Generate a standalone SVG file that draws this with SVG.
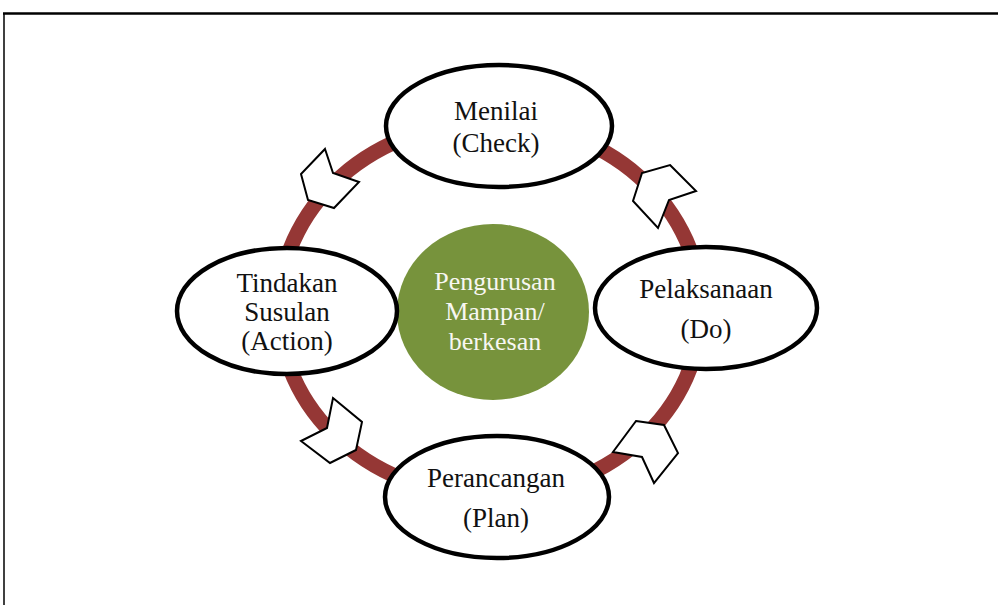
<svg xmlns="http://www.w3.org/2000/svg" width="998" height="605" viewBox="0 0 998 605">
<style>
  .node { fill: #ffffff; stroke: #000000; stroke-width: 4.5; }
  .lbl { font-family: "Liberation Serif", "Times New Roman", serif; font-size: 27px; fill: #111111; text-anchor: middle; }
  .clbl { font-family: "Liberation Serif", "Times New Roman", serif; font-size: 26px; fill: #f7f7f2; text-anchor: middle; }
  .arrow { fill: #ffffff; stroke: #000000; stroke-width: 2; stroke-linejoin: miter; }
</style>
<rect x="0" y="0" width="998" height="605" fill="#ffffff"/>
<g id="frame">
  <line x1="3" y1="13.5" x2="998" y2="13.5" stroke="#000" stroke-width="2.5"/>
  <line x1="4" y1="13" x2="4" y2="605" stroke="#000" stroke-width="1.5"/>
</g>
<g id="connectors">
  <ellipse cx="490" cy="309" rx="211" ry="187" fill="none" stroke="#953735" stroke-width="15"/>
  <polygon class="arrow" points="325,149 333,173 359,182 334,208 308,200 301,174"/>
  <polygon class="arrow" points="670,165 696,191 669,200 658,228 633,201 642,173"/>
  <polygon class="arrow" points="333,398 362,422 356,450 330,463 301,441 327,428"/>
  <polygon class="arrow" points="636,421 664,425 678,453 654,483 642,457 613,452"/>
</g>
<g id="center">
  <ellipse cx="493" cy="312" rx="96" ry="88" fill="#77933C"/>
  <text class="clbl" x="495" y="290">Pengurusan</text>
  <text class="clbl" x="495" y="320">Mampan/</text>
  <text class="clbl" x="495" y="350">berkesan</text>
</g>
<g id="check">
  <ellipse class="node" cx="499" cy="126" rx="113" ry="61"/>
  <text class="lbl" x="496" y="120">Menilai</text>
  <text class="lbl" x="496" y="152">(Check)</text>
</g>
<g id="action">
  <ellipse class="node" cx="287" cy="311" rx="110" ry="63"/>
  <text class="lbl" x="287" y="292">Tindakan</text>
  <text class="lbl" x="287" y="321">Susulan</text>
  <text class="lbl" x="287" y="350">(Action)</text>
</g>
<g id="do">
  <ellipse class="node" cx="706" cy="308" rx="111" ry="61"/>
  <text class="lbl" x="706" y="298">Pelaksanaan</text>
  <text class="lbl" x="706" y="338">(Do)</text>
</g>
<g id="plan">
  <ellipse class="node" cx="497" cy="497" rx="112" ry="61"/>
  <text class="lbl" x="496" y="487">Perancangan</text>
  <text class="lbl" x="496" y="527">(Plan)</text>
</g>
</svg>
